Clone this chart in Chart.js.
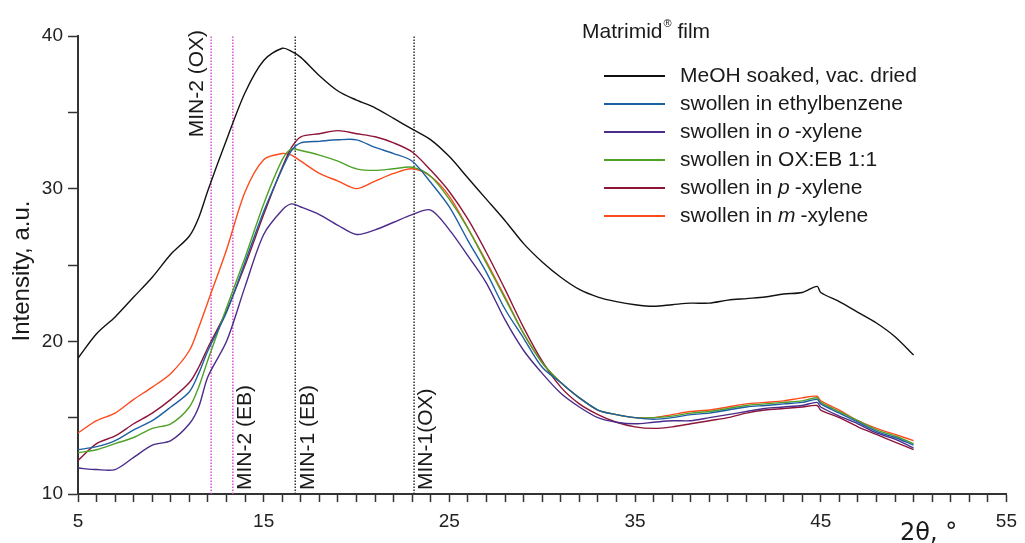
<!DOCTYPE html>
<html>
<head>
<meta charset="utf-8">
<script src="https://cdn.jsdelivr.net/npm/chart.js@4.4.0/dist/chart.umd.min.js"></script>
<style>
  html, body { margin: 0; padding: 0; background: #fff; }
  #wrap { width: 1025px; height: 543px; }
</style>
</head>
<body>
<div id="wrap"><canvas id="xrd" width="1025" height="543"></canvas></div>
<script>
// ─── Data ─────────────────────────────────────────────────────────────────────

const twoTheta = [5, 6, 7, 8, 9, 10, 11, 11.5, 12, 13, 14, 15, 16, 16.5,
  17, 18, 19, 20, 21, 22, 23, 24, 25, 26, 27, 28, 29, 30, 31, 32, 33, 34,
  35, 36, 37, 38, 39, 40, 41, 42, 43, 44, 44.8, 45, 46, 47, 48, 49, 50];

const meohDried = [18.9, 20.5, 21.6, 22.9, 24.2, 25.7, 26.9, 28.1, 29.9, 33.2, 36.3, 38.4, 39.2, 39.0,
  38.6, 37.4, 36.4, 35.8, 35.3, 34.6, 33.9, 33.2, 32.1, 30.7, 29.3, 27.9, 26.4, 25.2, 24.2, 23.4, 22.9, 22.6,
  22.4, 22.3, 22.4, 22.5, 22.5, 22.7, 22.8, 22.9, 23.1, 23.2, 23.6, 23.2, 22.6, 21.9, 21.2, 20.3, 19.1];

const ethylbenzene = [12.9, 13.1, 13.5, 14.2, 14.8, 15.7, 16.7, 17.9, 19.4, 21.9, 25.2, 28.5, 31.3, 32.5,
  33.0, 33.1, 33.2, 33.2, 32.7, 32.3, 31.8, 30.4, 28.8, 26.6, 24.5, 22.1, 20.2, 18.3, 17.3, 16.3, 15.5, 15.2,
  15.0, 14.9, 15.0, 15.2, 15.3, 15.5, 15.7, 15.8, 15.9, 16.0, 16.2, 15.9, 15.3, 14.7, 14.1, 13.7, 13.2];

const oXylene = [11.7, 11.6, 11.6, 12.4, 13.2, 13.5, 14.6, 15.7, 17.7, 20.0, 23.6, 27.0, 28.6, 29.0,
  28.8, 28.3, 27.6, 27.0, 27.3, 27.8, 28.3, 28.6, 27.3, 25.6, 23.8, 21.4, 19.4, 17.9, 16.6, 15.7, 15.0, 14.7,
  14.6, 14.7, 14.8, 14.8, 15.0, 15.2, 15.4, 15.6, 15.7, 15.8, 16.0, 15.7, 15.1, 14.6, 14.0, 13.6, 13.0];

const oxEbMix = [12.7, 12.9, 13.3, 13.7, 14.3, 14.6, 15.7, 17.0, 18.8, 22.2, 25.5, 29.0, 31.9, 32.6,
  32.5, 32.2, 31.8, 31.3, 31.2, 31.3, 31.4, 30.8, 29.3, 27.4, 25.1, 22.8, 20.5, 18.6, 17.3, 16.3, 15.5, 15.2,
  15.0, 15.0, 15.1, 15.3, 15.4, 15.6, 15.8, 15.9, 16.0, 16.1, 16.3, 16.0, 15.4, 14.8, 14.2, 13.8, 13.3];

const pXylene = [12.2, 13.3, 13.8, 14.6, 15.3, 16.2, 17.3, 18.3, 19.6, 22.0, 25.0, 28.3, 31.4, 32.7,
  33.4, 33.6, 33.8, 33.6, 33.4, 33.0, 32.4, 31.2, 29.8, 28.0, 25.8, 23.4, 20.9, 18.7, 17.0, 15.9, 15.2, 14.7,
  14.4, 14.3, 14.4, 14.6, 14.8, 15.0, 15.3, 15.5, 15.6, 15.7, 15.8, 15.5, 15.0, 14.4, 13.9, 13.4, 12.9];

const mXylene = [14.0, 14.8, 15.3, 16.2, 17.0, 17.9, 19.4, 20.9, 22.6, 26.0, 29.8, 31.9, 32.3, 32.2,
  31.8, 31.0, 30.5, 30.0, 30.5, 31.0, 31.3, 30.8, 29.5, 27.4, 25.2, 22.9, 20.5, 18.6, 17.3, 16.3, 15.5, 15.2,
  15.0, 15.0, 15.2, 15.4, 15.5, 15.7, 15.9, 16.0, 16.1, 16.3, 16.4, 16.1, 15.5, 14.8, 14.3, 13.9, 13.5];

// _x_ marks italic parts of a label
const seriesLabels = ['MeOH soaked, vac. dried', 'swollen in ethylbenzene', 'swollen in _o_-xylene',
  'swollen in OX:EB 1:1', 'swollen in _p_-xylene', 'swollen in _m_-xylene'];
const seriesColors = ['#111111', '#1d5fa3', '#4b2c8a', '#4fa226', '#8c1538', '#ff4a1c'];

const markerPos = [12.17, 13.34, 16.7, 23.1];
const markerLabels = ['MIN-2 (OX)', 'MIN-2 (EB)', 'MIN-1 (EB)', 'MIN-1(OX)'];
const markerColors = ['#d84fd8', '#d84fd8', '#333333', '#333333'];

const xMajor = [5, 15, 25, 35, 45, 55];
const yMajor = [10, 20, 30, 40];

const FONT = '"Liberation Sans", Arial, sans-serif';

// ─── Datasets ─────────────────────────────────────────────────────────────────

const seriesValues = [meohDried, ethylbenzene, oXylene, oxEbMix, pXylene, mXylene];

const curveSets = seriesValues.map((vals, i) => ({
  label: seriesLabels[i],
  data: twoTheta.map((x, j) => ({ x, y: vals[j] })),
  borderColor: seriesColors[i],
  borderWidth: 1.4,
  pointRadius: 0,
  tension: 0.3,
  fill: false,
}));

const markerSets = markerPos.map((x, i) => ({
  label: markerLabels[i],
  data: [{ x, y: 10 }, { x, y: 40 }],
  borderColor: markerColors[i],
  borderWidth: 1.5,
  borderDash: [1.5, 1.5],
  pointRadius: 0,
  isMarker: true,
}));

// ─── Overlay text: legend, marker labels, axis titles ─────────────────────────

function drawRich(ctx, text, x, y, size) {
  text.split('_').forEach((part, i) => {
    ctx.font = (i % 2 ? 'italic ' : '') + size + 'px ' + FONT;
    ctx.fillText(part, x, y);
    x += ctx.measureText(part).width + (i % 2 ? 5 : 0);
  });
}

const overlay = {
  id: 'overlay',
  afterDatasetsDraw(chart) {
    const { ctx, scales: { x: xs, y: ys } } = chart;
    ctx.save();
    ctx.fillStyle = '#1a1a1a';

    // marker labels
    ctx.font = '21px ' + FONT;
    markerPos.forEach((pos, i) => {
      const px = xs.getPixelForValue(pos);
      ctx.save();
      if (i === 0) {
        ctx.translate(px - 3, ys.getPixelForValue(40) - 6);
        ctx.rotate(-Math.PI / 2);
        ctx.textAlign = 'right';
        ctx.textBaseline = 'bottom';
      } else {
        ctx.translate(px + 2, ys.getPixelForValue(10) - 4);
        ctx.rotate(-Math.PI / 2);
        ctx.textAlign = 'left';
        ctx.textBaseline = 'top';
      }
      ctx.fillText(markerLabels[i], 0, 0);
      ctx.restore();
    });

    // legend title
    ctx.textAlign = 'left';
    ctx.textBaseline = 'middle';
    ctx.font = '21px ' + FONT;
    let tx = 582;
    ctx.fillText('Matrimid', tx, 32);
    tx += ctx.measureText('Matrimid').width + 1;
    ctx.font = '11px ' + FONT;
    ctx.fillText('®', tx, 24);
    tx += ctx.measureText('®').width;
    ctx.font = '21px ' + FONT;
    ctx.fillText(' film', tx, 32);

    // legend rows
    chart.data.datasets.filter((d) => !d.isMarker).forEach((d, i) => {
      const y = 76 + i * 28;
      ctx.strokeStyle = d.borderColor;
      ctx.lineWidth = 2;
      ctx.beginPath();
      ctx.moveTo(604, y);
      ctx.lineTo(665, y);
      ctx.stroke();
      drawRich(ctx, d.label, 680, y, 21);
    });

    // y title
    ctx.save();
    ctx.translate(22, 271);
    ctx.rotate(-Math.PI / 2);
    ctx.textAlign = 'center';
    ctx.textBaseline = 'middle';
    ctx.font = '24px ' + FONT;
    ctx.fillText('Intensity, a.u.', 0, 0);
    ctx.restore();

    // x title
    ctx.textAlign = 'left';
    ctx.textBaseline = 'alphabetic';
    ctx.font = '24px "DejaVu Sans", ' + FONT;
    ctx.fillText('2θ, °', 900, 540);

    ctx.restore();
  },
};

// ─── Chart ────────────────────────────────────────────────────────────────────

new Chart(document.getElementById('xrd'), {
  type: 'line',
  data: { datasets: [...curveSets, ...markerSets] },
  options: {
    responsive: false,
    animation: false,
    devicePixelRatio: 1,
    layout: { padding: { top: 36, right: 13, left: 0, bottom: 0 } },
    plugins: { legend: { display: false }, tooltip: { enabled: false } },
    scales: {
      x: {
        type: 'linear',
        min: 5,
        max: 55,
        border: { color: '#333', width: 2 },
        grid: { drawOnChartArea: false, tickLength: 8, tickColor: '#333', tickWidth: 1.5 },
        ticks: {
          stepSize: 1,
          autoSkip: false,
          maxRotation: 0,
          padding: 8,
          color: '#222',
          font: { family: FONT, size: 19 },
          callback: (v) => (xMajor.includes(v) ? v : ''),
        },
        afterFit: (s) => { s.height = 49; },
      },
      y: {
        min: 10,
        max: 40,
        border: { color: '#333', width: 2 },
        grid: { drawOnChartArea: false, tickLength: 10, tickColor: '#333', tickWidth: 1.5 },
        ticks: {
          stepSize: 5,
          padding: 5,
          color: '#222',
          font: { family: FONT, size: 19 },
          callback: (v) => (yMajor.includes(v) ? v : ''),
        },
        afterFit: (s) => { s.width = 78; },
      },
    },
  },
  plugins: [overlay],
});
</script>
</body>
</html>
